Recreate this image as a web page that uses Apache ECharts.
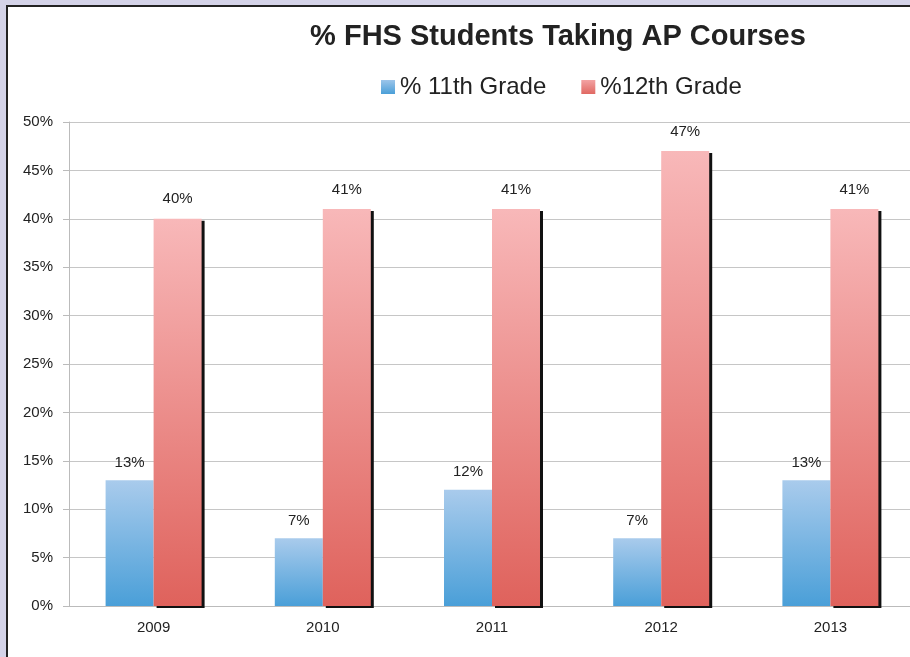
<!DOCTYPE html>
<html>
<head>
<meta charset="utf-8">
<script src="https://cdn.jsdelivr.net/npm/echarts@6/dist/echarts.min.js"></script>
<style>
  html, body { margin: 0; padding: 0; overflow: hidden; background: #d4d3e8; }
  .frame { position: absolute; left: 6px; top: 5px; width: 960px; height: 700px; background: #fff; border-left: 2px solid #222; border-top: 2px solid #222; }
  #chart { position: absolute; left: 0; top: 0; width: 916px; height: 657px; }
</style>
</head>
<body>
<div class="frame"></div>
<div id="chart"></div>
<script>
// 年份与两个年级的选课比例（%）
const years = ['2009', '2010', '2011', '2012', '2013']
const grade11 = [13, 7, 12, 7, 13]
const grade12 = [40, 41, 41, 47, 41]
const yTicks = { min: 0, max: 50, interval: 5 }

const font = 'Liberation Sans, Arial, sans-serif'

function grad(top, bottom) {
  return new echarts.graphic.LinearGradient(0, 0, 0, 1, [
    { offset: 0, color: top },
    { offset: 1, color: bottom }
  ])
}

const c = echarts.init(document.getElementById('chart'))
c.setOption({
  animation: false,
  title: {
    text: '% FHS Students Taking AP Courses',
    left: 553, top: 17, textAlign: 'center',
    textStyle: { fontFamily: font, fontSize: 29, fontWeight: 'bold', color: '#222' }
  },
  legend: {
    top: 70, left: 376,
    itemWidth: 14, itemHeight: 14, itemGap: 35,
    textStyle: { fontFamily: font, fontSize: 24, color: '#222' },
    data: [
      { name: '% 11th Grade', icon: 'rect', itemStyle: { color: grad('#9cc5ea', '#4a9fd8') } },
      { name: '%12th Grade', icon: 'rect', itemStyle: { color: grad('#f3a3a3', '#e06862') } }
    ]
  },
  grid: { left: 69, right: 1, top: 122, bottom: 51 },
  xAxis: {
    type: 'category', data: years,
    axisLine: { lineStyle: { color: '#bbb' } },
    axisTick: { length: 6, lineStyle: { color: '#bbb' } },
    axisLabel: { fontFamily: font, fontSize: 15, color: '#222', margin: 14 }
  },
  yAxis: {
    type: 'value', min: yTicks.min, max: yTicks.max, interval: yTicks.interval,
    axisLine: { show: true, lineStyle: { color: '#bbb' } },
    axisTick: { show: true, length: 6, lineStyle: { color: '#bbb' } },
    splitLine: { lineStyle: { color: '#c6c6c6' } },
    axisLabel: { formatter: '{value}%', fontFamily: font, fontSize: 15, color: '#222', margin: 16 }
  },
  series: [
    {
      name: '% 11th Grade', type: 'bar', data: grade11, barWidth: 48, barGap: '0%',
      itemStyle: { color: grad('#a9cbec', '#4a9fd8') },
      label: { show: true, position: 'top', distance: 10, formatter: '{c}%', fontFamily: font, fontSize: 15, color: '#222' }
    },
    {
      name: '%12th Grade', type: 'bar', data: grade12, barWidth: 48,
      itemStyle: {
        color: grad('#f8b8b9', '#df625c'),
        shadowColor: '#111', shadowOffsetX: 3, shadowOffsetY: 2, shadowBlur: 0
      },
      label: { show: true, position: 'top', distance: 12, formatter: '{c}%', fontFamily: font, fontSize: 15, color: '#222' }
    }
  ]
})
</script>
</body>
</html>
